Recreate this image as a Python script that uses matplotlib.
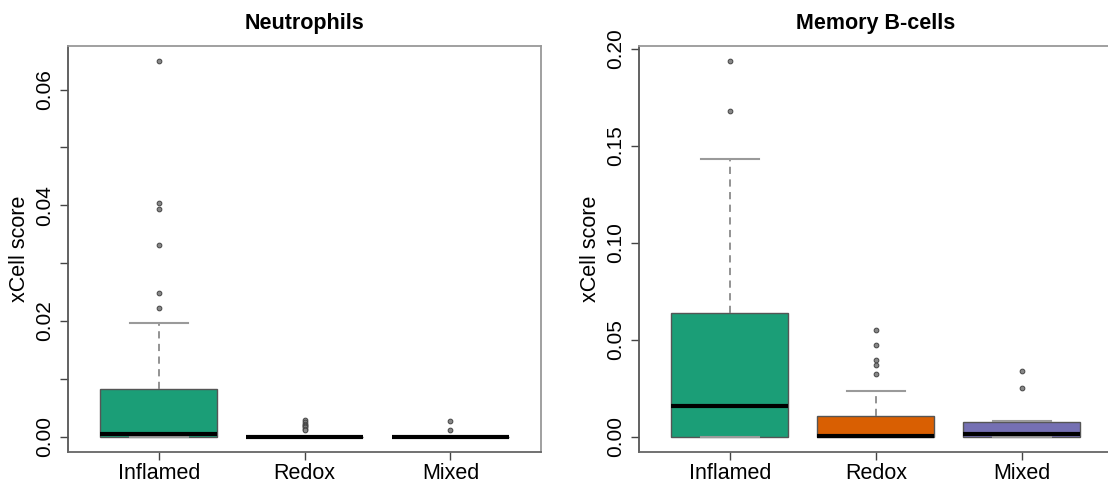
import matplotlib
matplotlib.use("Agg")
import matplotlib.pyplot as plt
import numpy as np

plt.rcParams['font.family'] = ['Liberation Sans', 'DejaVu Sans']

groups = ["Inflamed", "Redox", "Mixed"]
colors = ["#1b9e77", "#d95f02", "#7570b3"]

# Neutrophils: box statistics per group
neut_whislo = [0.0, 0.0, 0.0]
neut_q1 = [0.0, 0.0, 0.0]
neut_med = [0.0004, 0.0, 0.0]
neut_q3 = [0.0082, 0.0, 0.0]
neut_whishi = [0.0196, 0.0, 0.0]
neut_fliers = [
    [0.0650, 0.0404, 0.0393, 0.0331, 0.0248, 0.0223],
    [0.0029, 0.0026, 0.0022, 0.0020, 0.0018, 0.0016, 0.0014, 0.0012],
    [0.0027, 0.0011],
]

# Memory B-cells
bcell_whislo = [0.0, 0.0, 0.0]
bcell_q1 = [0.0, 0.0, 0.0]
bcell_med = [0.0160, 0.0006, 0.0012]
bcell_q3 = [0.0637, 0.0105, 0.0076]
bcell_whishi = [0.1435, 0.0235, 0.0081]
bcell_fliers = [
    [0.1940, 0.1680],
    [0.0551, 0.0474, 0.0395, 0.0369, 0.0321],
    [0.0337, 0.0249],
]

neut_ticks = [0.0, 0.01, 0.02, 0.03, 0.04, 0.05, 0.06]
neut_labels = ["0.00", "", "0.02", "", "0.04", "", "0.06"]
bcell_ticks = [0.0, 0.05, 0.10, 0.15, 0.20]
bcell_labels = ["0.00", "0.05", "0.10", "0.15", "0.20"]


def make_stats(lo, q1, med, q3, hi, fl):
    return [dict(whislo=lo[i], q1=q1[i], med=med[i], q3=q3[i], whishi=hi[i],
                 fliers=fl[i], label=groups[i]) for i in range(len(groups))]


def panel(ax, stats, title, ticks, labels, ymax):
    bp = ax.bxp(stats, positions=[1, 2, 3], widths=0.8, patch_artist=True,
                showfliers=True, capwidths=0.4,
                boxprops=dict(edgecolor="#555555", linewidth=1.0),
                medianprops=dict(color="black", linewidth=3, solid_capstyle="butt"),
                whiskerprops=dict(color="#8a8a8a", linewidth=1.3, linestyle=(0, (4, 3))),
                capprops=dict(color="#9a9a9a", linewidth=1.5),
                flierprops=dict(marker="o", markersize=3.4, markerfacecolor="#888888",
                                markeredgecolor="#444444", markeredgewidth=0.7))
    for patch, c in zip(bp["boxes"], colors):
        patch.set_facecolor(c)
    ext = ymax * 0.04
    ax.set_ylim(-ext, ymax + ext)
    ax.set_xlim(0.38, 3.62)
    ax.set_xticks([1, 2, 3])
    ax.set_xticklabels(groups, fontsize=15.5)
    ax.set_yticks(ticks)
    ax.set_yticklabels(labels, fontsize=15, rotation=90, va="center")
    ax.set_ylabel("xCell score", fontsize=15.5, labelpad=4)
    ax.tick_params(axis="both", direction="out", length=6, width=1.0, color="#444444")
    ax.tick_params(axis="x", pad=2)
    ax.tick_params(axis="y", pad=4)
    for s in ax.spines.values():
        s.set_color("#999999")
        s.set_linewidth(1.3)
    ax.spines["left"].set_color("#555555")
    ax.spines["bottom"].set_color("#666666")
    ax.set_title(title, fontsize=15.5, fontweight="bold", pad=12)


fig = plt.figure(figsize=(11.08, 4.83), dpi=100)
ax1 = fig.add_axes([0.0616, 0.0648, 0.4266, 0.8406])
ax2 = fig.add_axes([0.5770, 0.0648, 0.4270, 0.8406])

panel(ax1, make_stats(neut_whislo, neut_q1, neut_med, neut_q3, neut_whishi, neut_fliers),
      "Neutrophils", neut_ticks, neut_labels, 0.065)
panel(ax2, make_stats(bcell_whislo, bcell_q1, bcell_med, bcell_q3, bcell_whishi, bcell_fliers),
      "Memory B-cells", bcell_ticks, bcell_labels, 0.194)

fig.savefig("out.png", dpi=100)
